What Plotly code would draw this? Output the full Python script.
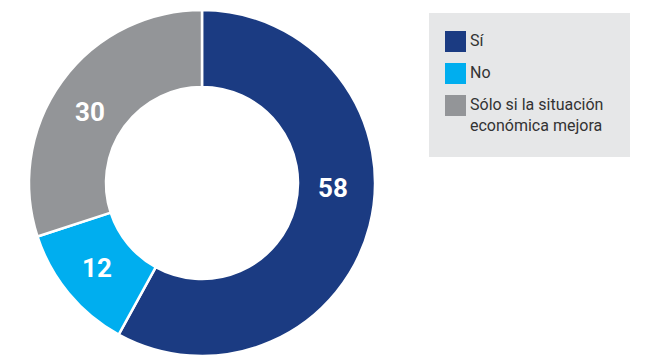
import plotly.graph_objects as go

# Data
labels = ["Sí", "No", "Sólo si la situación<br>económica mejora"]
values = [58, 12, 30]
colors = ["#1B3B82", "#00AEEF", "#939598"]

W, H = 645, 356


def px_x(x):
    return x / W


def px_y(y):
    return 1 - y / H


fig = go.Figure()

fig.add_trace(go.Pie(
    labels=labels,
    values=values,
    hole=0.555,
    sort=False,
    direction="clockwise",
    rotation=0,
    marker=dict(colors=colors, line=dict(color="white", width=2.5)),
    textinfo="none",
    domain=dict(x=[px_x(29), px_x(375)], y=[px_y(356), px_y(10)]),
    showlegend=False,
    hoverinfo="label+value",
))

# value labels placed where the reference puts them
label_pos = [(333, 188), (97, 268), (90, 112)]
annotations = []
for v, (lx, ly) in zip(values, label_pos):
    annotations.append(dict(text=str(v), xref="paper", yref="paper",
                            x=px_x(lx), y=px_y(ly), xanchor="center", yanchor="middle",
                            showarrow=False,
                            font=dict(family="Roboto", size=26, color="white", weight="bold")))

# legend box drawn by hand so the swatches match the reference size
shapes = [dict(type="rect", xref="paper", yref="paper",
               x0=px_x(429), x1=px_x(630), y0=px_y(157), y1=px_y(13),
               fillcolor="#E6E7E8", line=dict(width=0), layer="below")]
sq_tops = [31, 63, 95]
for lab, col, top in zip(labels, colors, sq_tops):
    shapes.append(dict(type="rect", xref="paper", yref="paper",
                       x0=px_x(445), x1=px_x(466), y0=px_y(top + 21), y1=px_y(top),
                       fillcolor=col, line=dict(width=0)))
    annotations.append(dict(text=lab, xref="paper", yref="paper",
                            x=px_x(468), y=px_y(top - 2), xanchor="left", yanchor="top",
                            align="left", showarrow=False,
                            font=dict(family="Roboto", size=16, color="#333333")))

fig.update_layout(
    width=W, height=H,
    margin=dict(l=0, r=0, t=0, b=0),
    paper_bgcolor="white",
    plot_bgcolor="white",
    shapes=shapes,
    annotations=annotations,
)

fig.write_html("out.html", config={"displayModeBar": False},
               post_script="document.body.style.margin='0';")
